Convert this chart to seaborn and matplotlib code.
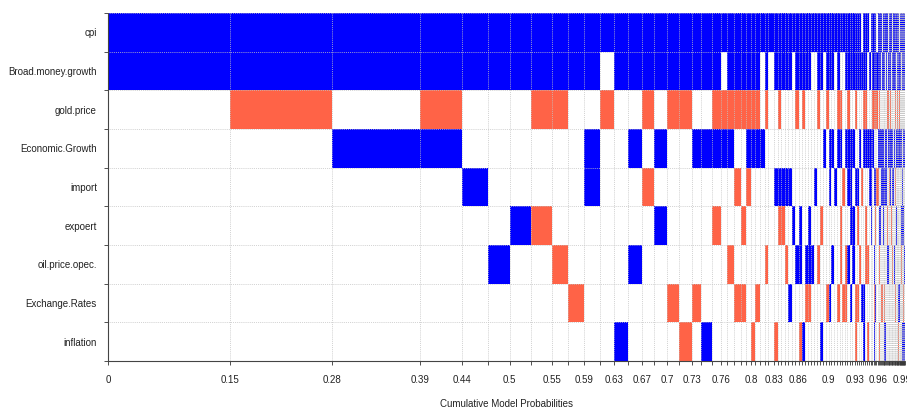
import numpy as np
import pandas as pd
import matplotlib
matplotlib.use("Agg")
import matplotlib.pyplot as plt
import seaborn as sns

# variables, top to bottom
var_names = ["cpi", "Broad.money.growth", "gold.price", "Economic.Growth", "import",
             "expoert", "oil.price.opec.", "Exchange.Rates", "inflation"]

# posterior model probabilities (column widths), best model first
model_probs = [
    0.152, 0.127, 0.110, 0.052, 0.033, 0.027, 0.027, 0.025, 0.020, 0.021,
    0.019, 0.018, 0.017, 0.018, 0.015, 0.016, 0.015, 0.016, 0.012, 0.013,
    0.011, 0.008, 0.009, 0.008, 0.007, 0.006, 0.005, 0.006, 0.006, 0.004,
    0.007,
    0.0048, 0.0047, 0.0045, 0.0044, 0.0043, 0.0042, 0.0041, 0.0040, 0.0039, 0.0039,
    0.0038, 0.0038, 0.0037, 0.0037, 0.0036, 0.0036, 0.0035, 0.0035, 0.0034, 0.0034,
    0.0033, 0.0033, 0.0032,
    0.0034, 0.0032, 0.0031, 0.0029, 0.0028, 0.0027, 0.0026, 0.0025, 0.0024, 0.0023,
    0.0022, 0.0021, 0.0020, 0.0019, 0.0018, 0.0017, 0.0016,
    0.0013, 0.0013, 0.0012, 0.0012, 0.0012, 0.0011, 0.0011, 0.0011, 0.0011, 0.0010,
    0.0010, 0.0010, 0.0010, 0.0010, 0.0009, 0.0009, 0.0009, 0.0009, 0.0009, 0.0009,
    0.0008, 0.0008, 0.0008, 0.0008, 0.0008, 0.0008, 0.0008, 0.0007, 0.0007, 0.0007,
    0.0007, 0.0007, 0.0007, 0.0006, 0.0006, 0.0006, 0.0006, 0.0006,
]

# sign of each coefficient per model: '+' positive, '-' negative, '.' not included
model_signs = [
    "++.......", "++-......", "++.+.....", "++-+.....", "++..+....",
    "++....+..", "++...+...", "++-..-...", "++-...-..", "++.....-.",
    "++.++....", "+.-......", "++......+", "++.+..+..", "++-.-....",
    "++.+.+...", "++-....-.", "++-.....-", "++.+...-.", "++.+....+",
    "++-+.-...", "+.-+.....", "++-+..-..", "++-.-..-.", "++-..-.-.",
    "++-+-....", "++-+....-", "++-+...-.", "+..+.....", "++-...-..",
    "+........",
    "++..+...-", "++-.+-...", "++..+-...", "++..+.-..", "++..+..+.",
    "+....+...", "++-...+..", "++...++.-", "++-.....+", "++....+-.",
    "++...++-.", "+.....+..", "+...+....", "++-...-..", "++...-..+",
    "+..+.....", "++-....-.", "++.++..+.", "++.+..+..", "+...+....",
    "++-+...-.", "+.-+.--..", "+...-..-.",
    "++.+..--.", "++-++.+..", "++.+++.+.", "++.+.++..", "++-.+..--",
    "++..+-.-.", "++.+..-..", ".+..-..+.", "++-+...++", "++-+.--..",
    "+..+..-.-", ".+.++....", "+..+++...", "++-+.....", "++-.+.+-+",
    "++-.+-.+.", ".+-.-....",
    "++.+-....", "++-+.+-.-", "++.+.+...", "+..++..-.", ".+.++..-.",
    "++.+++...", "++..+...+", "++..+..-+", "+..++...+", "++.++....",
    "+.-..-+..", ".+-+..+..", "++.+.-.++", "++.+-....", "++-++....",
    "+..+.-...", "++..+.-..", ".+.++.-..", "++..+....", "++.+..+..",
    "++-..+.-.", "++-.-..-.", "+..+.+...", "++-....-.", "++-+.....",
    "+.-+..+-.", "++.+...+-", ".+-+...+.", "++-+..+.-", "++.+.....",
    "++-++....", "+..+.+-..", "++.++..+.", "++..++..+", "+.-+..-..",
    "++.+.+.-+", "++-.+....", "++.+..+.+",
]

tick_values = [0, 0.15, 0.28, 0.39, 0.44, 0.5, 0.55, 0.59, 0.63, 0.67, 0.7,
               0.73, 0.76, 0.8, 0.83, 0.86, 0.9, 0.93, 0.96, 0.99]

pos_color = "#0000FF"
neg_color = "#FF6347"

bounds = np.concatenate([[0.0], np.cumsum(model_probs)])
total = bounds[-1]

records = []
for i, pat in enumerate(model_signs):
    for j, ch in enumerate(pat):
        if ch != ".":
            records.append({"start": bounds[i], "width": model_probs[i],
                            "row": j, "sign": ch})
df = pd.DataFrame(records)

sns.set_theme(style="white")
plt.rcParams["font.family"] = ["Liberation Sans", "DejaVu Sans"]
fs = 7.0

W, H = 907, 407
fig = plt.figure(figsize=(W / 100, H / 100), dpi=100)
ax = fig.add_axes([108 / W, 46 / H, total * 802 / W, 348 / H])

for sign, color in [("+", pos_color), ("-", neg_color)]:
    sub = df[df["sign"] == sign]
    ax.bar(sub["start"], 1, width=sub["width"], bottom=sub["row"], align="edge",
           color=color, linewidth=0, zorder=1)

# dotted grid over the cells
ax.vlines(bounds, 0, len(var_names), colors="#c4c4c4", linestyles=(0, (1, 1.3)),
          linewidth=0.6, zorder=3)
ax.hlines(np.arange(len(var_names) + 1), 0, total, colors="#c4c4c4",
          linestyles=(0, (1, 1.3)), linewidth=0.6, zorder=3)

ax.set_xlim(0, total)
ax.set_ylim(len(var_names), 0)

# x axis: a tick at every model boundary, labels where they fit
ax.set_xticks(bounds, minor=True)
major = [bounds[np.argmin(np.abs(bounds - v))] for v in tick_values]
ax.set_xticks(major)
ax.set_xticklabels([f"{v:.2f}".rstrip("0").rstrip(".") for v in tick_values])
ax.tick_params(axis="x", which="both", bottom=True, length=3, width=0.6,
               color="#333333", direction="out")
ax.tick_params(axis="x", which="major", pad=7, labelsize=fs, labelcolor="#222222")

ax.set_yticks(np.arange(len(var_names) + 1), minor=True)
ax.set_yticks(np.arange(len(var_names)) + 0.5)
ax.set_yticklabels(var_names)
ax.tick_params(axis="y", which="minor", left=True, length=3, width=0.6,
               color="#333333", direction="out")
ax.tick_params(axis="y", which="major", left=True, length=0, pad=8,
               labelsize=fs, labelcolor="#222222")

for side in ["top", "right"]:
    ax.spines[side].set_visible(False)
for side in ["left", "bottom"]:
    ax.spines[side].set_linestyle((0, (1, 1)))
    ax.spines[side].set_color("#444444")
    ax.spines[side].set_linewidth(0.8)
    ax.spines[side].set_zorder(4)

ax.set_xlabel("Cumulative Model Probabilities", fontsize=fs, color="#222222",
              labelpad=10)

fig.savefig("out.png", dpi=100)
